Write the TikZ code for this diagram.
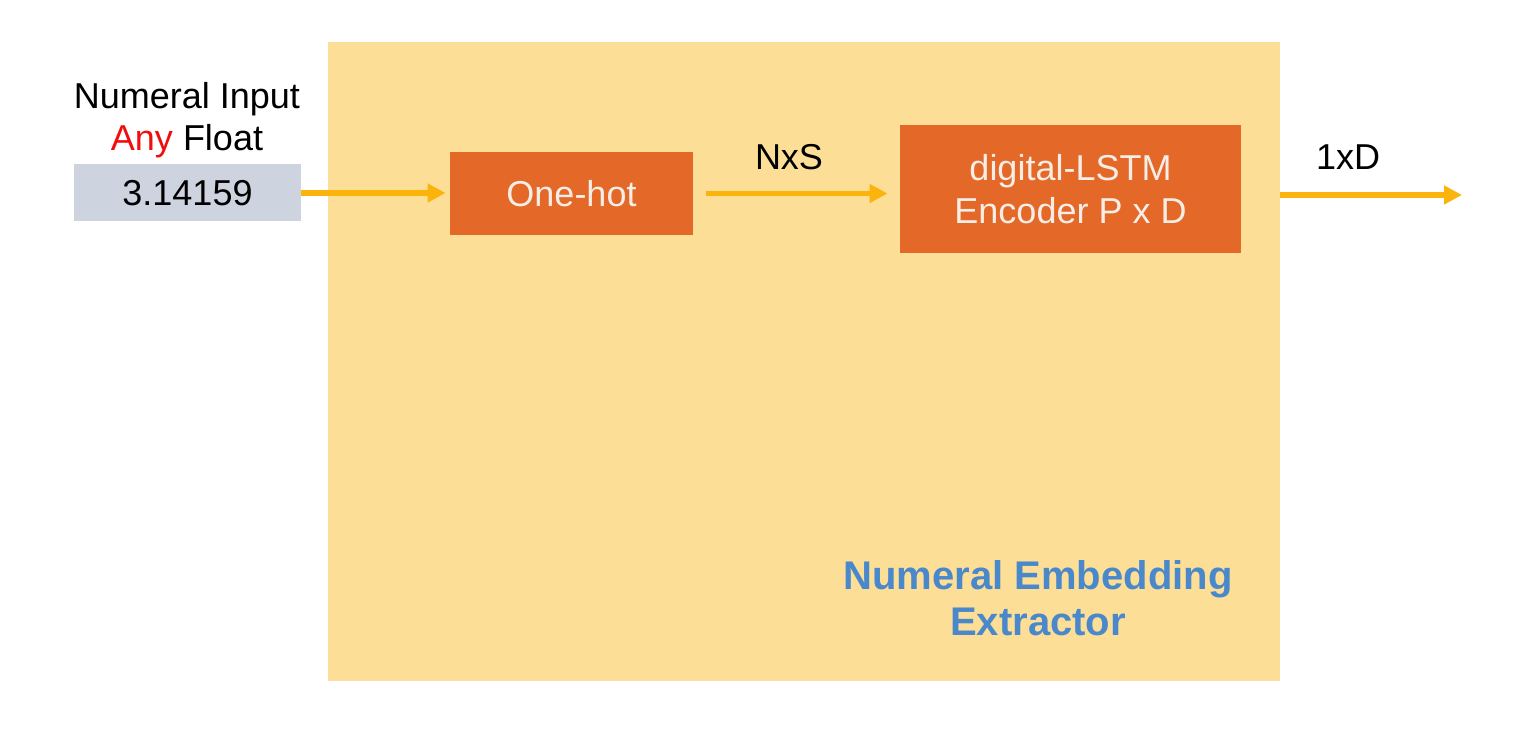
\documentclass[tikz,border=0pt]{standalone}
\usepackage{fontspec}
\setmainfont{Liberation Sans}
\usetikzlibrary{arrows.meta}
\definecolor{panel}{HTML}{FDDE96}
\definecolor{inbox}{HTML}{CDD4DF}
\definecolor{blkor}{HTML}{E46828}
\definecolor{blktxt}{HTML}{F6EEE6}
\definecolor{flowc}{HTML}{FBB40C}
\definecolor{ttl}{HTML}{4A88CC}
\definecolor{anyred}{HTML}{F20D0D}
\begin{document}
\begin{tikzpicture}[x=0.5pt,y=-0.5pt,
	txt/.style={font=\fontsize{18}{21.5}\selectfont,inner sep=0},
	blk/.style={txt,fill=blkor,text=blktxt,align=center},
	flow/.style={draw=flowc,line width=2.75pt,-{Triangle[length=9pt,width=9pt]}}]
	\useasboundingbox (0,0) rectangle (1514,732);
	\fill[panel] (328,42) rectangle (1280,681);
	\node (inlbl) [txt] at (187,99) {Numeral Input};
	\node (anylbl) [txt] at (187,141) {\textcolor{anyred}{Any} Float};
	\node (in) [txt,fill=inbox,minimum width=113.5pt,minimum height=28.5pt] at (187.5,193) {3.14159};
	\node (hot) [blk,minimum width=121.5pt,minimum height=41.5pt] at (571.5,193.5) {One-hot};
	\node (lstm) [blk,minimum width=170.5pt,minimum height=64pt] at (1070.5,189) {digital-LSTM\\Encoder P x D};
	\coordinate (out) at (1462,195);
	\draw[flow,shorten >=2pt] (in.east) -- (hot.west |- in.east);
	\draw[flow,shorten <=6.5pt,shorten >=6pt] (hot.east) -- (lstm.west |- hot.east);
	\draw[flow,shorten <=19.5pt] (lstm.east |- out) -- (out);
	\node (nxs) [txt] at (789,157) {NxS};
	\node (dout) [txt] at (1348,157) {1xD};
	\node (title) [txt,font=\fontsize{20}{23}\selectfont\bfseries,text=ttl,align=center] at (1038,598) {Numeral Embedding\\Extractor};
\end{tikzpicture}
\end{document}
